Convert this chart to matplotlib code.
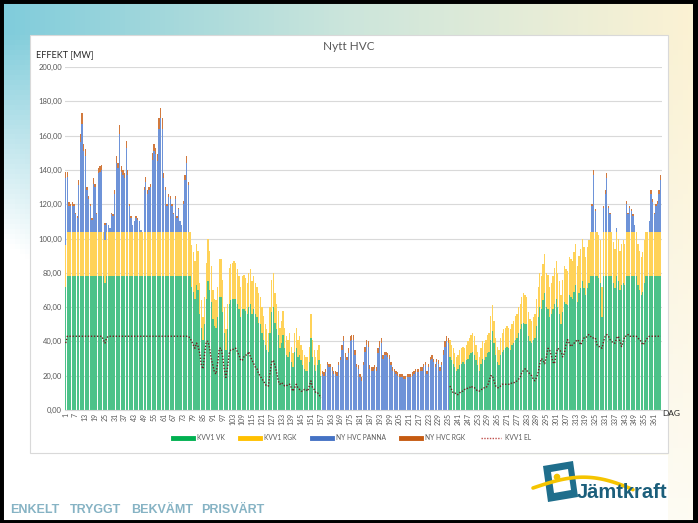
import numpy as np
import matplotlib
matplotlib.use("Agg")
import matplotlib.pyplot as plt
from matplotlib.patches import Rectangle, Polygon
from matplotlib.lines import Line2D

nan = np.nan

# ---- data (MW per day) ----
days = list(range(1, 366))
xtick_days = list(range(1, 366, 6))
yticks = [0, 20, 40, 60, 80, 100, 120, 140, 160, 180, 200]
labels = ["KVV1 VK", "KVV1 RGK", "NY HVC PANNA", "NY HVC RGK", "KVV1 EL"]

vk = [
    72, 78, 78, 78, 78, 78, 78, 78, 78, 78,
    78, 78, 78, 78, 78, 78, 78, 78, 78, 78,
    78, 78, 78, 78, 74, 78, 78, 78, 78, 78,
    78, 78, 78, 78, 78, 78, 78, 78, 78, 78,
    78, 78, 78, 78, 78, 78, 78, 78, 78, 78,
    78, 78, 78, 78, 78, 78, 78, 78, 78, 78,
    78, 78, 78, 78, 78, 78, 78, 78, 78, 78,
    78, 78, 78, 78, 78, 78, 78, 72, 69, 65,
    73, 70, 56, 48, 41, 50, 65, 75, 70, 63,
    53, 49, 48, 54, 66, 66, 57, 45, 35, 47,
    62, 64, 65, 65, 65, 62, 59, 54, 59, 59,
    58, 56, 60, 62, 56, 59, 56, 54, 51, 50,
    45, 41, 38, 35, 34, 45, 57, 60, 51, 47,
    44, 36, 39, 44, 36, 32, 31, 34, 28, 25,
    34, 36, 31, 32, 29, 26, 24, 23, 23, 28,
    42, 31, 26, 23, 26, 29, 20, 0, 0, 0,
    0, 0, 0, 0, 0, 0, 0, 0, 0, 0,
    0, 0, 0, 0, 0, 0, 0, 0, 0, 0,
    0, 0, 0, 0, 0, 0, 0, 0, 0, 0,
    0, 0, 0, 0, 0, 0, 0, 0, 0, 0,
    0, 0, 0, 0, 0, 0, 0, 0, 0, 0,
    0, 0, 0, 0, 0, 0, 0, 0, 0, 0,
    0, 0, 0, 0, 0, 0, 0, 0, 0, 0,
    0, 0, 0, 0, 0, 31, 29, 27, 25, 23,
    24, 26, 27, 28, 27, 29, 30, 32, 33, 34,
    32, 29, 26, 23, 27, 30, 29, 31, 33, 34,
    41, 46, 39, 32, 28, 26, 32, 34, 35, 36,
    37, 36, 35, 38, 39, 41, 42, 45, 47, 50,
    51, 50, 50, 43, 40, 39, 41, 42, 49, 54,
    60, 59, 64, 68, 60, 59, 54, 56, 59, 62,
    65, 60, 56, 50, 57, 63, 62, 61, 67, 66,
    65, 69, 73, 63, 68, 71, 75, 71, 67, 71,
    74, 78, 78, 78, 78, 78, 77, 74, 54, 78,
    78, 78, 78, 78, 78, 74, 71, 78, 75, 70,
    73, 74, 73, 78, 78, 78, 78, 78, 78, 78,
    73, 70, 67, 69, 74, 78, 78, 78, 78, 78,
    78, 78, 78, 78, 78,
]

rgk = [
    24, 26, 26, 26, 26, 26, 26, 26, 26, 26,
    26, 26, 26, 26, 26, 26, 26, 26, 26, 26,
    26, 26, 26, 26, 25, 26, 26, 26, 26, 26,
    26, 26, 26, 26, 26, 26, 26, 26, 26, 26,
    26, 26, 26, 26, 26, 26, 26, 26, 26, 26,
    26, 26, 26, 26, 26, 26, 26, 26, 26, 26,
    26, 26, 26, 26, 26, 26, 26, 26, 26, 26,
    26, 26, 26, 26, 26, 26, 26, 24, 23, 22,
    24, 23, 18, 16, 13, 16, 21, 25, 23, 21,
    17, 16, 16, 18, 22, 22, 19, 15, 12, 15,
    21, 21, 21, 22, 21, 20, 19, 18, 19, 20,
    19, 18, 20, 20, 19, 19, 18, 18, 17, 16,
    15, 14, 12, 12, 11, 15, 19, 20, 17, 15,
    14, 12, 13, 14, 12, 11, 10, 11, 9, 8,
    11, 12, 10, 11, 9, 9, 8, 8, 8, 9,
    14, 10, 9, 8, 9, 9, 7, 0, 0, 0,
    0, 0, 0, 0, 0, 0, 0, 0, 0, 0,
    0, 0, 0, 0, 0, 0, 0, 0, 0, 0,
    0, 0, 0, 0, 0, 0, 0, 0, 0, 0,
    0, 0, 0, 0, 0, 0, 0, 0, 0, 0,
    0, 0, 0, 0, 0, 0, 0, 0, 0, 0,
    0, 0, 0, 0, 0, 0, 0, 0, 0, 0,
    0, 0, 0, 0, 0, 0, 0, 0, 0, 0,
    0, 0, 0, 0, 0, 10, 9, 9, 8, 8,
    8, 9, 9, 9, 9, 9, 10, 10, 11, 11,
    11, 9, 8, 8, 9, 10, 10, 10, 11, 11,
    14, 15, 13, 10, 9, 9, 10, 11, 12, 12,
    12, 12, 12, 12, 13, 14, 14, 15, 15, 16,
    17, 17, 16, 14, 13, 13, 13, 14, 16, 18,
    20, 19, 21, 23, 20, 20, 18, 18, 19, 21,
    22, 20, 19, 17, 19, 21, 20, 20, 22, 22,
    22, 23, 24, 21, 22, 23, 25, 24, 22, 24,
    25, 26, 26, 26, 26, 26, 25, 25, 18, 26,
    26, 26, 26, 26, 26, 24, 23, 26, 25, 23,
    24, 25, 24, 26, 26, 26, 26, 26, 26, 26,
    24, 23, 22, 23, 25, 26, 26, 26, 26, 26,
    26, 26, 26, 26, 26,
]

panna = [
    39, 32, 15, 15, 15, 15, 10, 8, 27, 52,
    63, 47, 44, 24, 19, 15, 7, 28, 26, 10,
    34, 35, 36, 0, 9, 5, 4, 2, 10, 9,
    22, 40, 37, 57, 35, 33, 31, 49, 33, 15,
    8, 4, 6, 8, 7, 6, 1, 0, 24, 29,
    22, 24, 26, 42, 47, 45, 41, 60, 66, 60,
    31, 24, 15, 20, 19, 15, 10, 19, 8, 13,
    6, 4, 16, 30, 40, 27, 0, 0, 0, 0,
    0, 0, 0, 0, 0, 0, 0, 0, 0, 0,
    0, 0, 0, 0, 0, 0, 0, 0, 0, 0,
    0, 0, 0, 0, 0, 0, 0, 0, 0, 0,
    0, 0, 0, 0, 0, 0, 0, 0, 0, 0,
    0, 0, 0, 0, 0, 0, 0, 0, 0, 0,
    0, 0, 0, 0, 0, 0, 0, 0, 0, 0,
    0, 0, 0, 0, 0, 0, 0, 0, 0, 0,
    0, 0, 0, 0, 0, 0, 0, 21, 20, 22,
    26, 25, 25, 23, 21, 21, 20, 26, 29, 35,
    40, 31, 29, 33, 40, 41, 41, 32, 25, 24,
    19, 17, 26, 34, 38, 37, 24, 23, 23, 24,
    23, 33, 37, 39, 30, 32, 32, 31, 30, 26,
    23, 22, 21, 20, 19, 19, 19, 18, 18, 19,
    19, 19, 20, 21, 22, 22, 22, 23, 23, 25,
    26, 21, 25, 29, 30, 28, 25, 28, 27, 23,
    26, 32, 37, 40, 39, 0, 0, 0, 0, 0,
    0, 0, 0, 0, 0, 0, 0, 0, 0, 0,
    0, 0, 0, 0, 0, 0, 0, 0, 0, 0,
    0, 0, 0, 0, 0, 0, 0, 0, 0, 0,
    0, 0, 0, 0, 0, 0, 0, 0, 0, 0,
    0, 0, 0, 0, 0, 0, 0, 0, 0, 0,
    0, 0, 0, 0, 0, 0, 0, 0, 0, 0,
    0, 0, 0, 0, 0, 0, 0, 0, 0, 0,
    0, 0, 0, 0, 0, 0, 0, 0, 0, 0,
    0, 0, 15, 33, 12, 0, 0, 0, 0, 14,
    22, 31, 14, 10, 0, 0, 0, 2, 0, 0,
    0, 0, 0, 16, 10, 14, 12, 9, 4, 0,
    0, 0, 0, 0, 0, 0, 0, 6, 22, 17,
    10, 15, 16, 22, 30,
]

hvc_rgk = [
    4, 3, 2, 1, 2, 1, 1, 1, 3, 5,
    6, 4, 4, 2, 2, 1, 1, 3, 2, 1,
    3, 3, 3, 0, 1, 0, 0, 0, 1, 1,
    2, 4, 3, 5, 3, 3, 3, 4, 3, 1,
    1, 0, 0, 1, 1, 0, 0, 0, 2, 3,
    2, 2, 2, 4, 4, 4, 4, 6, 6, 6,
    3, 2, 1, 2, 2, 1, 1, 2, 1, 1,
    0, 0, 2, 3, 4, 2, 0, 0, 0, 0,
    0, 0, 0, 0, 0, 0, 0, 0, 0, 0,
    0, 0, 0, 0, 0, 0, 0, 0, 0, 0,
    0, 0, 0, 0, 0, 0, 0, 0, 0, 0,
    0, 0, 0, 0, 0, 0, 0, 0, 0, 0,
    0, 0, 0, 0, 0, 0, 0, 0, 0, 0,
    0, 0, 0, 0, 0, 0, 0, 0, 0, 0,
    0, 0, 0, 0, 0, 0, 0, 0, 0, 0,
    0, 0, 0, 0, 0, 0, 0, 2, 2, 2,
    2, 2, 2, 2, 2, 2, 2, 2, 2, 3,
    3, 2, 2, 3, 3, 3, 3, 3, 2, 2,
    2, 2, 2, 3, 3, 3, 2, 2, 2, 2,
    2, 3, 3, 3, 2, 2, 2, 2, 2, 2,
    2, 2, 2, 2, 2, 2, 2, 2, 2, 2,
    2, 2, 2, 2, 2, 2, 2, 2, 2, 2,
    2, 2, 2, 2, 2, 2, 2, 2, 2, 2,
    2, 3, 3, 3, 3, 0, 0, 0, 0, 0,
    0, 0, 0, 0, 0, 0, 0, 0, 0, 0,
    0, 0, 0, 0, 0, 0, 0, 0, 0, 0,
    0, 0, 0, 0, 0, 0, 0, 0, 0, 0,
    0, 0, 0, 0, 0, 0, 0, 0, 0, 0,
    0, 0, 0, 0, 0, 0, 0, 0, 0, 0,
    0, 0, 0, 0, 0, 0, 0, 0, 0, 0,
    0, 0, 0, 0, 0, 0, 0, 0, 0, 0,
    0, 0, 0, 0, 0, 0, 0, 0, 0, 0,
    0, 0, 1, 3, 1, 0, 0, 0, 0, 1,
    2, 3, 1, 1, 0, 0, 0, 0, 0, 0,
    0, 0, 0, 2, 1, 1, 1, 1, 0, 0,
    0, 0, 0, 0, 0, 0, 0, 0, 2, 2,
    1, 1, 2, 2, 3,
]

el = [
    39, 43, 43, 43, 43, 43, 43, 43, 43, 43,
    43, 43, 43, 43, 43, 43, 43, 43, 43, 43,
    43, 43, 43, 41, 39, 42, 43, 43, 43, 43,
    43, 43, 43, 43, 43, 43, 43, 43, 43, 43,
    43, 43, 43, 43, 43, 43, 43, 43, 43, 43,
    43, 43, 43, 43, 43, 43, 43, 43, 43, 43,
    43, 43, 43, 43, 43, 43, 43, 43, 43, 43,
    43, 43, 43, 43, 43, 43, 42, 40, 38, 36,
    39, 37, 33, 26, 24, 33, 40, 40, 36, 30,
    26, 22, 21, 28, 36, 36, 31, 24, 19, 25,
    33, 35, 35, 36, 36, 34, 32, 29, 29, 31,
    32, 32, 34, 31, 29, 27, 25, 24, 21, 20,
    18, 17, 15, 14, 14, 22, 28, 29, 26, 22,
    17, 15, 16, 15, 14, 14, 15, 15, 13, 11,
    13, 15, 13, 12, 11, 11, 12, 12, 11, 14,
    17, 13, 12, 10, 10, 9, 7, nan, nan, nan,
    nan, nan, nan, nan, nan, nan, nan, nan, nan, nan,
    nan, nan, nan, nan, nan, nan, nan, nan, nan, nan,
    nan, nan, nan, nan, nan, nan, nan, nan, nan, nan,
    nan, nan, nan, nan, nan, nan, nan, nan, nan, nan,
    nan, nan, nan, nan, nan, nan, nan, nan, nan, nan,
    nan, nan, nan, nan, nan, nan, nan, nan, nan, nan,
    nan, nan, nan, nan, nan, nan, nan, nan, nan, nan,
    nan, nan, nan, nan, nan, 14, 12, 10, 10, 9,
    9, 10, 11, 11, 12, 12, 13, 13, 14, 13,
    13, 12, 11, 11, 12, 12, 13, 13, 14, 17,
    20, 20, 17, 14, 13, 13, 14, 15, 15, 15,
    15, 15, 15, 16, 16, 16, 17, 18, 19, 22,
    23, 24, 23, 22, 21, 20, 18, 17, 19, 22,
    27, 30, 29, 27, 31, 36, 35, 32, 28, 27,
    33, 36, 35, 34, 31, 33, 38, 41, 39, 37,
    38, 39, 40, 41, 40, 38, 40, 42, 42, 43,
    44, 43, 42, 42, 42, 38, 37, 37, 36, 40,
    43, 44, 43, 41, 40, 39, 39, 42, 43, 40,
    37, 40, 43, 43, 44, 43, 43, 43, 43, 43,
    42, 41, 40, 38, 39, 41, 42, 43, 43, 43,
    43, 43, 43, 43, 43,
]

for s in (vk, rgk, panna, hvc_rgk, el):
    assert len(s) == 365, len(s)

W, H = 698, 523
colors = ["#4CC289", "#FFD258", "#6E93D8", "#D27A3E", "#6E2020"]
legend_colors = ["#00B050", "#FFC000", "#4472C4", "#C55A11"]
text_col = "#595959"
plt.rcParams["font.family"] = ["Lato", "DejaVu Sans"]


def fx(x):
    return x / W


def fy(y):
    return 1 - y / H


fig = plt.figure(figsize=(W / 100, H / 100), dpi=100)

# slide background
bg = fig.add_axes([0, 0, 1, 1])
bg.set_xlim(0, W)
bg.set_ylim(H, 0)
bg.axis("off")
gx = np.linspace(0, 1, 140)
gy = np.linspace(0, 1, 105)
left_c = np.array([0.50, 0.80, 0.86])
mid_c = np.array([0.80, 0.90, 0.86])
right_c = np.array([0.99, 0.95, 0.83])
hx = np.where(gx[:, None] < 0.5,
              left_c + (mid_c - left_c) * (gx[:, None] / 0.5),
              mid_c + (right_c - mid_c) * ((gx[:, None] - 0.5) / 0.5))
fade = np.clip(1 - (gy[:, None] - 0.06) / (0.40 + 0.9 * gx[None, :]), 0, 1)
img = 1 - fade[:, :, None] * (1 - hx[None, :, :])
bg.imshow(img, extent=(0, W, H, 0), aspect="auto", zorder=0)
bg.add_patch(Rectangle((0, 455), 668, 70, facecolor="white", edgecolor="none", zorder=1))
bg.add_patch(Rectangle((30, 35), 638, 418, facecolor="white", edgecolor="#D9D9D9",
                       lw=0.8, zorder=2))
bg.add_patch(Rectangle((693, 0), 5, H, facecolor="black", edgecolor="none", zorder=5))
bg.add_patch(Rectangle((0, 0), W, H, facecolor="none", edgecolor="black", lw=5, zorder=5))

# Jamtkraft logo
bg.add_patch(Polygon([[543, 466], [573, 461], [578, 497], [548, 502]], closed=True,
                     facecolor="#1F6E8C", edgecolor="none", zorder=3))
bg.add_patch(Polygon([[551, 472], [568, 469], [571, 490], [554, 493]], closed=True,
                     facecolor="white", edgecolor="none", zorder=4))
bg.add_patch(plt.Circle((557, 477), 2.6, color="#F2C200", zorder=4))
t = np.linspace(0, 1, 40)
bg.plot(533 + 100 * t, 488 - 14 * np.sin(np.pi * t * 0.9) + 6 * t, color="#F5C400",
        lw=2.6, solid_capstyle="round", zorder=4)
bg.text(577, 493, "Jämtkraft", fontsize=14.5, fontweight="bold", color="#1B5E7B",
        family=["Liberation Sans Narrow", "Liberation Sans", "DejaVu Sans"],
        va="center", ha="left", zorder=6)

# footer words
for word, xw in [("ENKELT", 10), ("TRYGGT", 70), ("BEKVÄMT", 131), ("PRISVÄRT", 201)]:
    bg.text(xw, 510, word, fontsize=9, fontweight="bold", color="#86B3C4",
            family=["Liberation Sans", "DejaVu Sans"], va="center", ha="left", zorder=6)

# chart
ax = fig.add_axes([fx(64.9), fy(410), (661.6 - 64.9) / W, (410 - 67) / H])
ax.set_zorder(3)
ax.patch.set_alpha(0)

d = np.array(days)
s1 = np.array(vk, dtype=float)
s2 = np.array(rgk, dtype=float)
s3 = np.array(panna, dtype=float)
s4 = np.array(hvc_rgk, dtype=float)
bw = 0.8
ax.bar(d, s1, width=bw, color=colors[0], lw=0, zorder=2)
ax.bar(d, s2, width=bw, bottom=s1, color=colors[1], lw=0, zorder=2)
ax.bar(d, s3, width=bw, bottom=s1 + s2, color=colors[2], lw=0, zorder=2)
ax.bar(d, s4, width=bw, bottom=s1 + s2 + s3, color=colors[3], lw=0, zorder=2)
ax.plot(d, np.array(el, dtype=float), color=colors[4], lw=1.0,
        linestyle=(0, (1, 1.2)), zorder=3)

ax.set_xlim(0.5, 365.5)
ax.set_ylim(0, 200)
ax.set_yticks(yticks)
ax.set_yticklabels([f"{v:.2f}".replace(".", ",") for v in yticks], fontsize=5.5, color=text_col)
ax.set_xticks(xtick_days)
ax.set_xticklabels([str(v) for v in xtick_days], rotation=90, fontsize=5, color=text_col)
ax.tick_params(length=0, pad=2)
ax.grid(axis="y", color="#D9D9D9", lw=0.8, zorder=0)
ax.set_axisbelow(True)
for sp in ["top", "right", "left"]:
    ax.spines[sp].set_visible(False)
ax.spines["bottom"].set_color("#D9D9D9")
ax.spines["bottom"].set_linewidth(0.8)

fig.text(fx(349), fy(47), "Nytt HVC", fontsize=8.5, color=text_col, ha="center", va="center")
fig.text(fx(36), fy(55), "EFFEKT [MW]", fontsize=6.5, color="#262626", ha="left", va="center")
fig.text(fx(662), fy(413), "DAG", fontsize=6, color="#262626", ha="left", va="center")

handles = [Line2D([], [], color=c, lw=3.5) for c in legend_colors]
handles.append(Line2D([], [], color="#C0504D", lw=1.0, linestyle=(0, (1, 1))))
fig.legend(handles, labels, loc="center", bbox_to_anchor=(fx(352), fy(438)), ncol=5,
           frameon=False, fontsize=4.8, handlelength=3.0, columnspacing=2.3,
           handletextpad=0.6, labelcolor=text_col)

fig.savefig("out.png", dpi=100)
